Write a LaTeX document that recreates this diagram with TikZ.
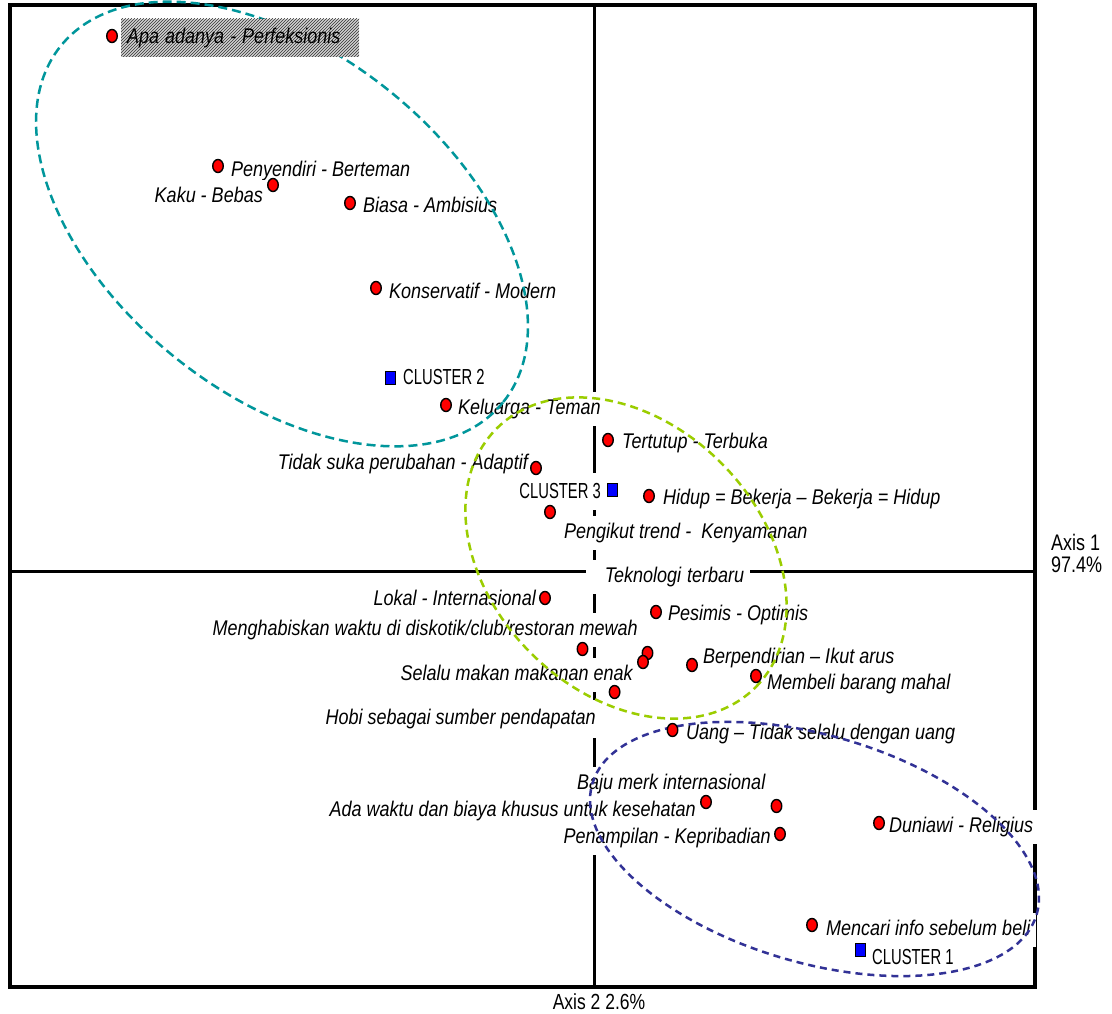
\documentclass[tikz,border=0pt]{standalone}
\usepackage{fontspec}
\setmainfont{Liberation Sans}
\usepackage{graphicx}
\usetikzlibrary{shapes.geometric,patterns}
\definecolor{tealc}{RGB}{0,150,155}
\definecolor{greenc}{RGB}{155,205,0}
\definecolor{bluec}{RGB}{50,50,150}
\newcommand{\sy}[1]{\scalebox{1}[1.18]{#1}}
\newcommand{\cy}[1]{\scalebox{0.87}[1.28]{#1}}
\newcommand{\ay}[1]{\scalebox{1}[1.25]{#1}}
\tikzset{
  dotnode/.style={ellipse, draw=black, fill=red, line width=1.4pt, minimum width=10.5pt, minimum height=13pt, inner sep=0pt},
  sqnode/.style={rectangle, draw=black, fill=blue, line width=1pt, minimum width=10pt, minimum height=13pt, inner sep=0pt},
  lbl/.style={fill=white, inner xsep=6pt, inner ysep=0pt, minimum height=34pt, text height=15.5pt, text depth=4pt, font=\itshape\fontsize{18}{20}\selectfont},
  clbl/.style={fill=white, inner xsep=5pt, inner ysep=0pt, minimum height=28pt, text height=15pt, text depth=0pt, font=\fontsize{17}{20}\selectfont},
  axlbl/.style={inner sep=0pt, font=\fontsize{18}{25}\selectfont},
  frameline/.style={line width=4pt},
  axisline/.style={line width=3pt},
  ellteal/.style={draw=tealc, line width=2.5pt, dash pattern=on 9pt off 5pt},
  ellgreen/.style={draw=greenc, line width=2.5pt, dash pattern=on 8pt off 5pt},
  ellblue/.style={draw=bluec, line width=2.5pt, dash pattern=on 7pt off 5pt},
  hatchbox/.style={preaction={fill=gray!35}, pattern=north east lines, pattern color=black!80, inner xsep=6pt, inner ysep=0pt, minimum height=38pt, text height=15.5pt, text depth=4pt, font=\itshape\fontsize{18}{20}\selectfont}
}
\begin{document}
\begin{tikzpicture}[x=1pt,y=-1pt]
\useasboundingbox (0,0) rectangle (1112,1014);
\fill[white] (0,0) rectangle (1112,1014);

% frame and axes
\coordinate (fNW) at (10,5);
\coordinate (fSE) at (1035,987);
\coordinate (vT) at (594,5);
\coordinate (vB) at (594,987);
\coordinate (hL) at (10,571);
\coordinate (hR) at (1035,571);
\draw[axisline] (vT) -- (vB);
\draw[axisline] (hL) -- (hR);
\draw[frameline] (fNW) rectangle (fSE);

% labels (white boxes)
\node[lbl, anchor=west] (t2) at (225,171) {\sy{Penyendiri - Berteman}};
\node[lbl, anchor=east] (t3) at (269,197) {\sy{Kaku - Bebas}};
\node[lbl, anchor=west] (t4) at (357,207) {\sy{Biasa - Ambisius}};
\node[lbl, anchor=west] (t5) at (383,293) {\sy{Konservatif - Modern}};
\node[clbl, anchor=west] (c2t) at (398,377) {\cy{CLUSTER 2}};
\node[lbl, anchor=west] (t7) at (452,409) {\sy{Keluarga - Teman}};
\node[lbl, anchor=west] (t8) at (616,443) {\sy{Tertutup - Terbuka}};
\node[lbl, anchor=east] (t9) at (534,464) {\sy{Tidak suka perubahan - Adaptif}};
\node[clbl, anchor=east, minimum height=37pt] (c3t) at (606,491) {\cy{CLUSTER 3}};
\node[lbl, anchor=west, minimum height=30pt] (t11) at (657,499) {\sy{Hidup = Bekerja – Bekerja = Hidup}};
\node[lbl, anchor=west] (t12) at (558,533) {\sy{Pengikut trend -\ \ Kenyamanan}};
\node[lbl, anchor=west, text width=152pt, align=right] (t13) at (586,577) {\sy{Teknologi terbaru}};
\node[lbl, anchor=east] (t14) at (542,600) {\sy{Lokal - Internasional}};
\node[lbl, anchor=west] (t15) at (662,615) {\sy{Pesimis - Optimis}};
\node[lbl, anchor=east] (t16) at (644,630) {\sy{Menghabiskan waktu di diskotik/club/restoran mewah}};
\node[lbl, anchor=west] (t18) at (697,658) {\sy{Berpendirian – Ikut arus}};
\node[lbl, anchor=east] (t20) at (639,675) {\sy{Selalu makan makanan enak}};
\node[lbl, anchor=west] (t19) at (761,684) {\sy{Membeli barang mahal}};
\node[lbl, anchor=east, minimum height=38pt] (t22) at (602,719) {\sy{Hobi sebagai sumber pendapatan}};
\node[lbl, anchor=west] (t23) at (680,734) {\sy{Uang – Tidak selalu dengan uang}};
\node[lbl, anchor=west] (t24) at (571,784) {\sy{Baju merk internasional}};
\node[lbl, anchor=east] (t25) at (702,811) {\sy{Ada waktu dan biaya khusus untuk kesehatan}};
\node[lbl, anchor=east] (t27) at (777,838) {\sy{Penampilan - Kepribadian}};
\node[lbl, anchor=west] (t28) at (883,827) {\sy{Duniawi - Religius}};
\node[lbl, anchor=west] (t29) at (820,930) {\sy{Mencari info sebelum beli}};
\node[clbl, anchor=west] (c1t) at (867,957) {\cy{CLUSTER 1}};

% axis labels
\node[axlbl, anchor=west, align=left] (ax1) at (1051,553) {\ay{Axis 1}\\[-3pt]\ay{97.4\%}};
\node[axlbl, font=\fontsize{17.5}{20}\selectfont] (ax2) at (599,1002) {\ay{Axis 2 2.6\%}};

% cluster ellipses
\draw[ellteal, rotate around={-38.8:(282,224)}] (282,224) ellipse [x radius=284pt, y radius=171pt];
\draw[ellgreen, rotate around={-45:(626,558)}] (626,558) ellipse [x radius=183pt, y radius=134.5pt];
\draw[ellblue, rotate around={-16.4:(814.5,849)}] (814.5,849) ellipse [x radius=231.6pt, y radius=113.6pt];

% hatched highlighted label
\node[hatchbox, anchor=west, text width=226pt, align=left] (t1) at (121,38) {\sy{Apa adanya - Perfeksionis}};

% points
\node[dotnode] (p1) at (112,36) {};
\node[dotnode] (p2) at (218,166) {};
\node[dotnode] (p3) at (273,185) {};
\node[dotnode] (p4) at (350,203) {};
\node[dotnode] (p5) at (376,288) {};
\node[dotnode] (p7) at (446,405) {};
\node[dotnode] (p8) at (608,440) {};
\node[dotnode] (p9) at (536,468) {};
\node[dotnode] (p11) at (649,496) {};
\node[dotnode] (p12) at (550,512) {};
\node[dotnode] (p14) at (545,598) {};
\node[dotnode] (p15) at (656,612) {};
\node[dotnode] (p16) at (582.5,649) {};
\node[dotnode] (p17a) at (647.5,653) {};
\node[dotnode] (p17b) at (643,662) {};
\node[dotnode] (p18) at (692,665) {};
\node[dotnode] (p19) at (756,676) {};
\node[dotnode] (p20) at (614.6,692) {};
\node[dotnode] (p23) at (672.5,730) {};
\node[dotnode] (p25) at (706,802) {};
\node[dotnode] (p26) at (776.5,806) {};
\node[dotnode] (p27) at (780,834) {};
\node[dotnode] (p28) at (879,823) {};
\node[dotnode] (p29) at (812,925) {};

% cluster centres
\node[sqnode] (c2) at (390,378) {};
\node[sqnode] (c3) at (612.5,490) {};
\node[sqnode] (c1) at (860,950) {};
\end{tikzpicture}
\end{document}
